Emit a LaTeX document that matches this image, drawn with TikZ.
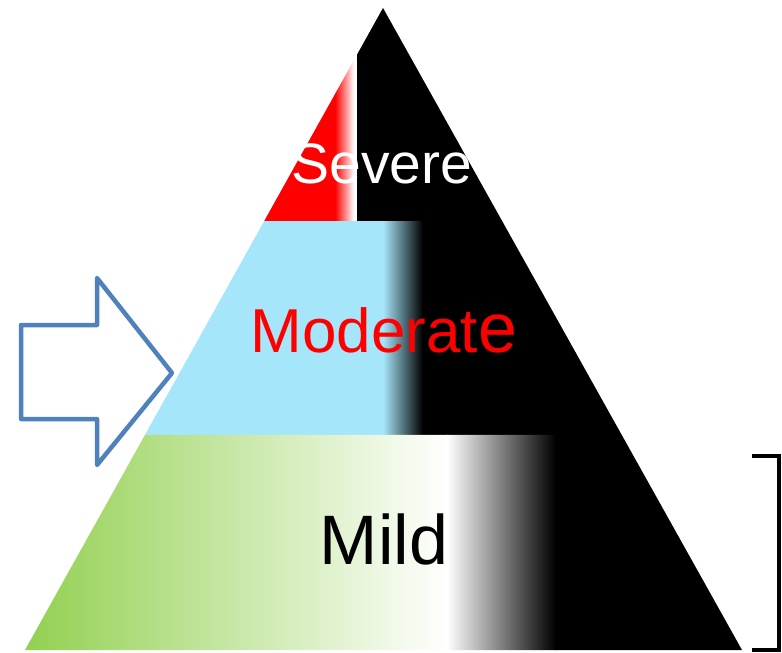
\documentclass[tikz,border=0pt]{standalone}
\usepackage{fontspec}
\setmainfont{Liberation Sans}
\definecolor{skyband}{RGB}{166,230,250}
\definecolor{greenband}{RGB}{146,208,80}
\definecolor{arrowblue}{RGB}{79,129,189}

\begin{document}
\begin{tikzpicture}[x=1pt, y=-1pt,
	level text/.style={inner sep=0pt, anchor=base},
	outline arrow/.style={line width=4.5pt, arrowblue, line join=round, fill=white},
	bracket/.style={line width=3.6pt, black}]
	\useasboundingbox (0,0) rectangle (782,653);
	%\draw[help lines] (0,0) grid[step=50] (782,653);
	\coordinate (apex) at (383,8);
	\coordinate (baseL) at (25,650);
	\coordinate (baseR) at (742,650);
	\path (apex) -- (baseL) coordinate[pos=0.3318] (l1) coordinate[pos=0.6651] (l2);
	\path (apex) -- (baseR) coordinate[pos=0.3318] (r1) coordinate[pos=0.6651] (r2);
	% top band
	\begin{scope}
		\clip (apex) -- (r1) -- (l1) -- cycle;
		\fill[red] (0,0) rectangle (335,222);
		\shade[left color=red, right color=white] (335,0) rectangle (354,222);
		\fill[black] (357,0) rectangle (782,222);
	\end{scope}
	% middle band
	\begin{scope}
		\clip (l1) -- (r1) -- (r2) -- (l2) -- cycle;
		\fill[skyband] (0,0) rectangle (384,436);
		\shade[left color=skyband, right color=black] (383,0) rectangle (423,436);
		\fill[black] (422,0) rectangle (782,436);
	\end{scope}
	% bottom band
	\begin{scope}
		\clip (l2) -- (r2) -- (baseR) -- (baseL) -- cycle;
		\shade[left color=greenband, right color=white] (25,400) rectangle (448,653);
		\shade[left color=white, right color=black] (447,400) rectangle (556,653);
		\fill[black] (555,400) rectangle (782,653);
	\end{scope}
	\node[level text, white, font=\fontsize{57}{62}\selectfont] (severe) at (382,183) {Severe};
	\node[level text, red] (moderate) at (384,352)
	  {\fontsize{62}{66}\selectfont Moderat\fontsize{70}{74}\selectfont e};
	\node[level text, font=\fontsize{70}{76}\selectfont] (mild) at (384,564) {Mild};
	% pointer arrow
	\draw[outline arrow] (21,325) -- (97,325) -- (97,278) -- (172,373)
	  -- (97,465) -- (97,419) -- (21,419) -- cycle;
	% bracket
	\draw[bracket] (752,456) -- (779,456) -- (779,650) -- (752,650);
\end{tikzpicture}
\end{document}
